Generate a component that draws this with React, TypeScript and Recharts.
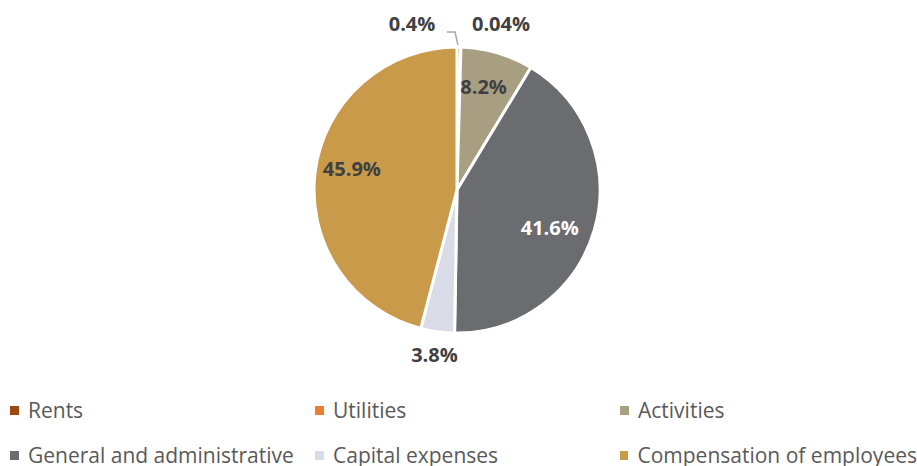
import React from 'react';
import { PieChart, Pie, Cell, Legend } from 'recharts';

const categories = ['Rents', 'Utilities', 'Activities', 'General and administrative', 'Capital expenses', 'Compensation of employees'];
const shares = [0.4, 0.04, 8.2, 41.6, 3.8, 45.9];
const labels = ['0.4%', '0.04%', '8.2%', '41.6%', '3.8%', '45.9%'];
const colors = ['#9e480e', '#ed7d31', '#a89f83', '#6b6c70', '#d9dbe6', '#c99a4a'];

const data = categories.map((name, i) => ({ name, value: shares[i], label: labels[i] }));

const RAD = Math.PI / 180;
// small nudges so labels sit where the original placed them
const labelTurn = [0, 0, 2, -6, 0, -4];
const labelRadius = [0, 0, 0.75, 0.7, 1.16, 0.75];

const renderLabel = (props: any) => {
  const { cx, cy, midAngle, outerRadius, index } = props;
  const text = labels[index];
  const common = { fontFamily: 'Open Sans', fontWeight: 700, fontSize: 20, fill: '#404040' };
  if (index === 0) {
    return (
      <g>
        <text x={cx - 45} y={cy - 167} textAnchor="middle" dominantBaseline="central" {...common}>{text}</text>
        <polyline points={`${cx - 10},${cy - 158} ${cx - 2},${cy - 158} ${cx + 1},${cy - 145}`} fill="none" stroke="#a6a6a6" strokeWidth={1.5} />
      </g>
    );
  }
  if (index === 1) {
    return <text x={cx + 44} y={cy - 167} textAnchor="middle" dominantBaseline="central" {...common}>{text}</text>;
  }
  const a = (midAngle + labelTurn[index]) * RAD;
  const r = outerRadius * labelRadius[index];
  const x = cx + r * Math.cos(-a);
  const y = cy + r * Math.sin(-a);
  return (
    <text x={x} y={y} textAnchor="middle" dominantBaseline="central" {...common} fill={index === 3 ? '#ffffff' : '#404040'}>
      {text}
    </text>
  );
};

const LegendContent = () => (
  <div style={{ display: 'grid', gridTemplateColumns: '305px 305px 307px', rowGap: 17, fontFamily: 'Open Sans', fontSize: 21, color: '#595959' }}>
    {categories.map((c, i) => (
      <div key={c} style={{ display: 'flex', alignItems: 'center', paddingLeft: 10, whiteSpace: 'nowrap', height: 28, lineHeight: '28px' }}>
        <span style={{ display: 'inline-block', width: 9, height: 9, background: colors[i], marginRight: 9 }} />
        {c}
      </div>
    ))}
  </div>
);

export default function App() {
  return (
    <div style={{ position: 'absolute', left: 0, top: 0, width: 917, height: 466, background: '#fff' }}>
      <PieChart width={917} height={466}>
        <Pie
          data={data}
          dataKey="value"
          cx={452}
          cy={185}
          outerRadius={143}
          startAngle={90}
          endAngle={-270}
          stroke="#ffffff"
          strokeWidth={3}
          label={renderLabel}
          labelLine={false}
          isAnimationActive={false}
        >
          {data.map((d, i) => (
            <Cell key={d.name} fill={colors[i]} />
          ))}
        </Pie>
        <Legend content={<LegendContent />} wrapperStyle={{ left: 0, top: 396, width: 917 }} />
      </PieChart>
    </div>
  );
}
